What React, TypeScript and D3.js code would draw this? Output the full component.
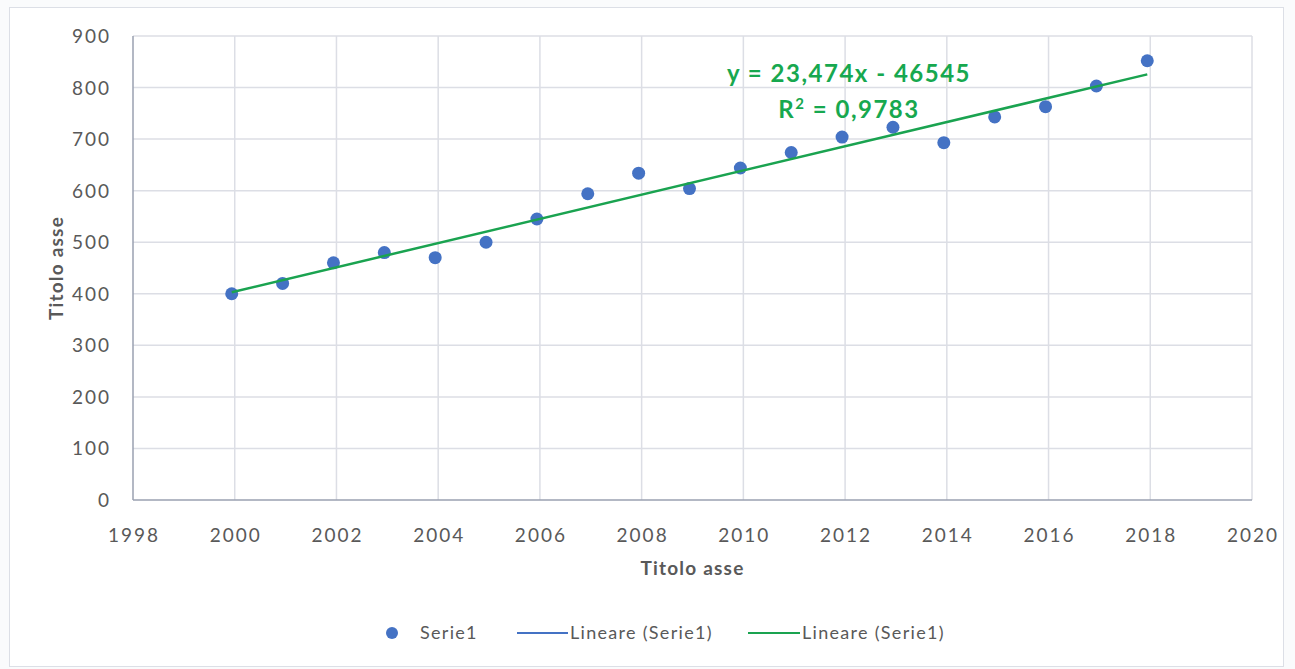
import React, { useEffect, useRef } from 'react';
import * as d3 from 'd3';

// data
const years = [2000, 2001, 2002, 2003, 2004, 2005, 2006, 2007, 2008, 2009, 2010, 2011, 2012, 2013, 2014, 2015, 2016, 2017, 2018];
const values = [400, 420, 460, 480, 470, 500, 545, 594, 634, 604, 644, 674, 704, 723, 693, 743, 763, 803, 852];
const xTicks = [1998, 2000, 2002, 2004, 2006, 2008, 2010, 2012, 2014, 2016, 2018, 2020];
const yTicks = [0, 100, 200, 300, 400, 500, 600, 700, 800, 900];
const slope = 23.474;
const intercept = -46545;
const eqLabel = 'y = 23,474x - 46545';
const r2Label = '0,9783';
const legendItems = ['Serie1', 'Lineare (Serie1)', 'Lineare (Serie1)'];

const FONT = 'Lato, "Open Sans", sans-serif';

const draw = (node: SVGSVGElement) => {
    const svg = d3.select(node);
    svg.selectAll('*').remove();

    // plot area
    const left = 133, right = 1252, top = 36, bottom = 500;

    // outer frame
    svg.append('rect')
        .attr('x', 9.5).attr('y', 7.5)
        .attr('width', 1274).attr('height', 659)
        .attr('fill', '#fff')
        .attr('stroke', '#dcdfe6');

    const x = d3.scaleLinear().domain([1998, 2020]).range([left, right]);
    const y = d3.scaleLinear().domain([0, 900]).range([bottom, top]);

    const g = svg.append('g');

    // gridlines
    g.selectAll('.hgrid')
        .data(yTicks.filter(d => d > 0))
        .enter().append('line')
        .attr('x1', left).attr('x2', right)
        .attr('y1', d => y(d)).attr('y2', d => y(d))
        .attr('stroke', '#dcdee5').attr('stroke-width', 1.5);
    g.selectAll('.vgrid')
        .data(xTicks.filter(d => d > 1998))
        .enter().append('line')
        .attr('x1', d => x(d)).attr('x2', d => x(d))
        .attr('y1', top).attr('y2', bottom)
        .attr('stroke', '#dcdee5').attr('stroke-width', 1.5);

    // axis lines
    g.append('line').attr('x1', left).attr('x2', left).attr('y1', top).attr('y2', bottom)
        .attr('stroke', '#9aa0b0').attr('stroke-width', 1.5);
    g.append('line').attr('x1', left).attr('x2', right).attr('y1', bottom).attr('y2', bottom)
        .attr('stroke', '#9aa0b0').attr('stroke-width', 1.5);

    // tick labels
    g.selectAll('.ylab')
        .data(yTicks)
        .enter().append('text')
        .attr('x', left - 22)
        .attr('y', d => y(d) + 7)
        .attr('text-anchor', 'end')
        .style('font-family', FONT).style('font-size', '19px').style('letter-spacing', '2px')
        .attr('fill', '#595959')
        .text(d => d);
    g.selectAll('.xlab')
        .data(xTicks)
        .enter().append('text')
        .attr('x', d => x(d) + 1)
        .attr('y', bottom + 42)
        .attr('text-anchor', 'middle')
        .style('font-family', FONT).style('font-size', '19px').style('letter-spacing', '2px')
        .attr('fill', '#595959')
        .text(d => d);

    // axis titles
    g.append('text')
        .attr('x', (left + right) / 2).attr('y', bottom + 75)
        .attr('text-anchor', 'middle')
        .style('font-family', FONT).style('font-size', '19px').style('font-weight', 'bold')
        .style('letter-spacing', '1.2px')
        .attr('fill', '#595959')
        .text('Titolo asse');
    g.append('text')
        .attr('transform', 'translate(63,' + (top + bottom) / 2 + ') rotate(-90)')
        .attr('text-anchor', 'middle')
        .style('font-family', FONT).style('font-size', '19px').style('font-weight', 'bold')
        .style('letter-spacing', '1.2px')
        .attr('fill', '#595959')
        .text('Titolo asse');

    // points
    g.selectAll('.pt')
        .data(years)
        .enter().append('circle')
        .attr('cx', d => x(d) - 3)
        .attr('cy', (d, i) => y(values[i]))
        .attr('r', 6.5)
        .attr('fill', '#4472c4');

    // trendline
    const x0 = d3.min(years) as number, x1 = d3.max(years) as number;
    const line = d3.line<number>().x(d => x(d) - 3).y(d => y(slope * d + intercept));
    g.append('path')
        .attr('d', line([x0, x1]))
        .attr('fill', 'none')
        .attr('stroke', '#1aa350')
        .attr('stroke-width', 2.5);

    // equation
    const eq = g.append('text')
        .attr('text-anchor', 'middle')
        .style('font-family', FONT).style('font-size', '24px').style('font-weight', 'bold')
        .style('letter-spacing', '1.5px')
        .attr('fill', '#17a84f');
    eq.append('tspan').attr('x', 849).attr('y', 82).text(eqLabel);
    const r2 = g.append('text')
        .attr('x', 849).attr('y', 118)
        .attr('text-anchor', 'middle')
        .style('font-family', FONT).style('font-size', '24px').style('font-weight', 'bold')
        .style('letter-spacing', '1.5px')
        .attr('fill', '#17a84f');
    r2.append('tspan').text('R');
    r2.append('tspan').attr('dy', -9).style('font-size', '15px').text('2');
    r2.append('tspan').attr('dy', 9).text(' = ' + r2Label);

    // legend
    const ly = 633;
    const lg = svg.append('g');
    const legendText = (lx: number, s: string) =>
        lg.append('text').attr('x', lx).attr('y', ly + 6)
            .style('font-family', FONT).style('font-size', '18px').style('letter-spacing', '1.3px')
            .attr('fill', '#595959')
            .text(s);
    lg.append('circle').attr('cx', 392).attr('cy', ly).attr('r', 6).attr('fill', '#4472c4');
    legendText(420, legendItems[0]);
    lg.append('line').attr('x1', 517).attr('x2', 568).attr('y1', ly).attr('y2', ly)
        .attr('stroke', '#4472c4').attr('stroke-width', 2);
    legendText(570, legendItems[1]);
    lg.append('line').attr('x1', 748).attr('x2', 800).attr('y1', ly).attr('y2', ly)
        .attr('stroke', '#1aa350').attr('stroke-width', 2);
    legendText(802, legendItems[2]);
};

const App = () => {
    const ref = useRef<SVGSVGElement>(null);
    useEffect(() => {
        if (ref.current) draw(ref.current);
    }, []);
    return (
        <svg ref={ref} width={1295} height={669}
            style={{ position: 'absolute', left: 0, top: 0, background: '#fafbfc' }} />
    );
};

export default App;
